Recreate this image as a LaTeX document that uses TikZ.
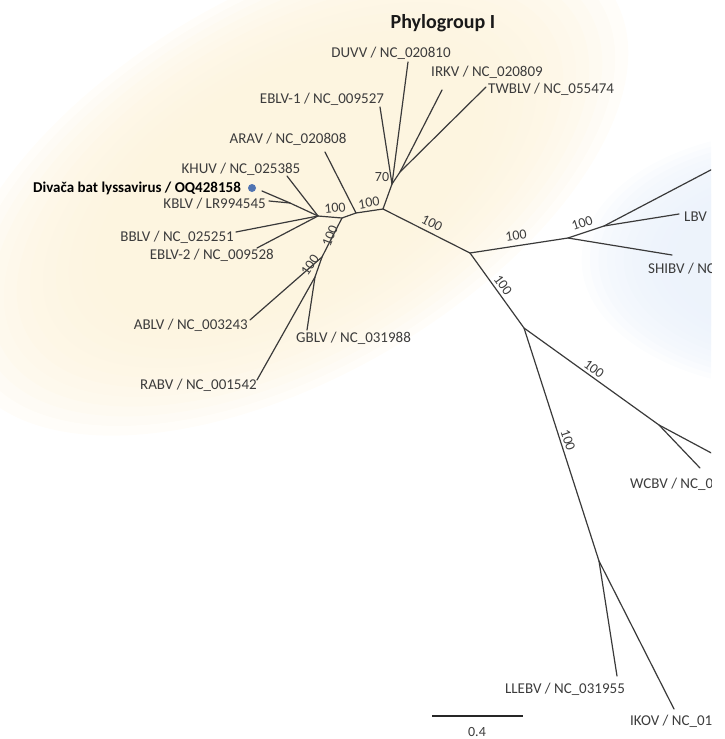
\documentclass[tikz,border=0pt]{standalone}
\usepackage{fontspec}
\setmainfont{Carlito}
\definecolor{grpone}{RGB}{253,243,220}
\definecolor{grptwo}{RGB}{234,241,251}
\definecolor{brgray}{RGB}{58,58,58}
\definecolor{lblgray}{RGB}{60,60,60}
\definecolor{dotblue}{RGB}{80,116,178}

\begin{document}
\begin{tikzpicture}[x=1pt,y=-1pt,
  branch/.style={draw=brgray,line width=1.2pt,line cap=round},
  taxon/.style={text=lblgray,inner sep=0pt,font=\fontsize{15}{18}\selectfont},
  boot/.style={text=lblgray,inner sep=0pt,font=\fontsize{14}{16}\selectfont}]
\useasboundingbox (0,0) rectangle (725,739);
\clip (0,0) rectangle (711,739);
% clade backgrounds
\begin{scope}[shift={(290,185)},rotate=30]
\foreach \s in {1.04,1.0,0.96,0.92,0.88,0.84,0.8,0.76,0.72,0.68,0.64,0.6}
  \fill[grpone,opacity=0.16] (0,0) ellipse [x radius=\s*360pt,y radius=\s*185pt];
\end{scope}
\begin{scope}[shift={(800,260)}]
\foreach \s in {1.04,1.0,0.96,0.92,0.88,0.84,0.8,0.76,0.72,0.68,0.64,0.6}
  \fill[grptwo,opacity=0.16] (0,0) ellipse [x radius=\s*210pt,y radius=\s*125pt];
\end{scope}

% inner nodes
\coordinate (a) at (383,209);
\coordinate (c) at (470,253);
\coordinate (n70) at (392,184);
\coordinate (nit) at (400,172);
\coordinate (nar) at (356,213);
\coordinate (nlow) at (342,218);
\coordinate (nk) at (318,216);
\coordinate (ndk) at (290,203);
\coordinate (nab) at (322,257);
\coordinate (ngr) at (315,277);
\coordinate (nl) at (568,238);
\coordinate (nl2) at (604,226);
\coordinate (d) at (524,328);
\coordinate (nw) at (659,425);
\coordinate (e) at (599,561);
% leaves
\coordinate (duvv) at (408,62);
\coordinate (ebl1) at (380,107);
\coordinate (irkv) at (442,90);
\coordinate (twbl) at (486,87);
\coordinate (arav) at (325,152);
\coordinate (khuv) at (287,176);
\coordinate (diva) at (262,191);
\coordinate (kblv) at (269,201);
\coordinate (bblv) at (236,232);
\coordinate (ebl2) at (257,248);
\coordinate (ablv) at (250,320);
\coordinate (gblv) at (307,330);
\coordinate (rabv) at (257,380);
\coordinate (offa) at (745,152);
\coordinate (lbv) at (679,214);
\coordinate (shib) at (672,255);
\coordinate (offb) at (745,471);
\coordinate (wcbv) at (700,468);
\coordinate (lleb) at (617,676);
\coordinate (ikov) at (674,709);

% branches
\draw[branch] (c) -- (a) -- (n70) -- (ebl1);
\draw[branch] (n70) -- (duvv);
\draw[branch] (n70) -- (nit) -- (irkv);
\draw[branch] (nit) -- (twbl);
\draw[branch] (a) -- (nar) -- (arav);
\draw[branch] (nar) -- (nlow) -- (nk) -- (khuv);
\draw[branch] (nk) -- (ndk) -- (diva);
\draw[branch] (ndk) -- (kblv);
\draw[branch] (nk) -- (bblv);
\draw[branch] (nk) -- (ebl2);
\draw[branch] (nlow) -- (nab) -- (ablv);
\draw[branch] (nab) -- (ngr) -- (gblv);
\draw[branch] (ngr) -- (rabv);
\draw[branch] (c) -- (nl) -- (nl2) -- (offa);
\draw[branch] (nl2) -- (lbv);
\draw[branch] (nl) -- (shib);
\draw[branch] (c) -- (d) -- (nw) -- (offb);
\draw[branch] (nw) -- (wcbv);
\draw[branch] (d) -- (e) -- (lleb);
\draw[branch] (e) -- (ikov);

% support values
\node[boot,rotate=5] (b1) at (335,208) {100};
\node[boot,rotate=9] (b2) at (369,203) {100};
\node[boot] (b3) at (382,177) {70};
\node[boot,rotate=-27] (b4) at (432,223) {100};
\node[boot,rotate=68] (b5) at (330,236) {100};
\node[boot,rotate=55] (b6) at (310,265) {100};
\node[boot,rotate=8] (b7) at (516,236) {100};
\node[boot,rotate=18] (b8) at (582,223) {100};
\node[boot,rotate=-54] (b9) at (503,285) {100};
\node[boot,rotate=-36] (b10) at (594,369) {100};
\node[boot,rotate=-72] (b11) at (568,440) {100};

% taxa
\node[font=\fontsize{20}{24}\selectfont\bfseries,text=black!90,inner sep=0pt] (title) at (443,23) {Phylogroup I};
\node[taxon] (duvvlab) at (391,53) {DUVV / NC\_020810};
\node[taxon] (irkvlab) at (487,72) {IRKV / NC\_020809};
\node[taxon,anchor=west] (twbllab) at (488,89) {TWBLV / NC\_055474};
\node[taxon] (ebl1lab) at (322,99) {EBLV-1 / NC\_009527};
\node[taxon] (aravlab) at (288,139) {ARAV / NC\_020808};
\node[taxon] (khuvlab) at (241,169) {KHUV / NC\_025385};
\node[taxon,anchor=east,text=black,font=\fontsize{15}{18}\selectfont\bfseries] (divalab) at (241,188) {Divača bat lyssavirus / OQ428158};
\node[circle,fill=dotblue,inner sep=0pt,minimum size=8pt] (divadot) at (252,188) {};
\node[taxon,anchor=east] (kblvlab) at (266,204) {KBLV / LR994545};
\node[taxon,anchor=east] (bblvlab) at (234,237) {BBLV / NC\_025251};
\node[taxon,anchor=east] (ebl2lab) at (274,255) {EBLV-2 / NC\_009528};
\node[taxon,anchor=east] (ablvlab) at (248,325) {ABLV / NC\_003243};
\node[taxon,anchor=west] (gblvlab) at (296,338) {GBLV / NC\_031988};
\node[taxon,anchor=east] (rabvlab) at (257,385) {RABV / NC\_001542};
\node[taxon,anchor=west] (lbvlab) at (684,217) {LBV};
\node[taxon,anchor=west] (shiblab) at (648,269) {SHIBV / NC};
\node[taxon,anchor=west] (wcbvlab) at (630,484) {WCBV / NC\_0};
\node[taxon] (lleblab) at (565,689) {LLEBV / NC\_031955};
\node[taxon,anchor=west] (ikovlab) at (630,721) {IKOV / NC\_01};

% scale bar
\coordinate (sbl) at (432,716);
\coordinate (sbr) at (523,716);
\draw[line width=2pt,black!85] (sbl) -- (sbr);
\node[taxon,font=\fontsize{14}{16}\selectfont] (sblab) at (477,732) {0.4};
\end{tikzpicture}
\end{document}
